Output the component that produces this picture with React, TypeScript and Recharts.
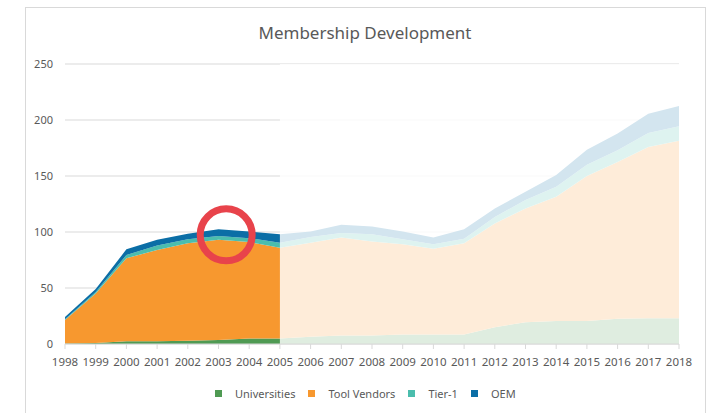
import React from 'react';
import { AreaChart, Area, XAxis, YAxis, CartesianGrid, Legend, ReferenceArea, ReferenceDot, Customized } from 'recharts';

const years = [1998, 1999, 2000, 2001, 2002, 2003, 2004, 2005, 2006, 2007, 2008, 2009, 2010, 2011, 2012, 2013, 2014, 2015, 2016, 2017, 2018];
const universities = [0.5, 1, 2.5, 2.5, 3, 3.5, 5, 5, 6.5, 7.5, 7.5, 8.5, 8.5, 8.5, 15, 19.5, 20.5, 20.5, 22.5, 23, 23];
const toolVendors = [21, 44, 74, 81.5, 87, 89.5, 86, 81, 84, 87.5, 84, 80.5, 76.5, 81.5, 92.5, 101.5, 111, 129.5, 140, 153, 158.5];
const tier1 = [0.5, 1.5, 3, 4, 3.5, 3.5, 3.5, 4.5, 5, 4, 6.5, 4.5, 4, 4, 6, 7.5, 9, 10, 10.5, 12.5, 13];
const oem = [2, 2.5, 5, 5, 5, 6, 6, 7.5, 5, 7.5, 7, 7, 6, 8.5, 7.5, 7.5, 10.5, 13.5, 15, 17, 18];
const yTicks = [0, 50, 100, 150, 200, 250];
const fadedFrom = 2005;
const fadedTo = 2018;
const highlight = { x: 2003.25, y: 97.5 };

const series = [
  { key: 'universities', name: 'Universities', color: '#4f9a53' },
  { key: 'toolVendors', name: 'Tool Vendors', color: '#f7982f' },
  { key: 'tier1', name: 'Tier-1', color: '#4bbdad' },
  { key: 'oem', name: 'OEM', color: '#0b6ea6' },
];

const data = years.map((y, i) => ({
  year: y,
  universities: universities[i],
  toolVendors: toolVendors[i],
  tier1: tier1[i],
  oem: oem[i],
}));

const FONT = '"Noto Sans", sans-serif';

const LegendContent = () => (
  <div style={{ height: 20, display: 'flex', alignItems: 'center', fontFamily: FONT, fontSize: 11, color: '#595959' }}>
    {series.map((s, i) => (
      <div key={s.key} style={{ display: 'flex', alignItems: 'center', marginLeft: i === 0 ? 215 : 13 }}>
        <div style={{ width: 7, height: 7, background: s.color, marginRight: 13 }} />
        <span>{s.name}</span>
      </div>
    ))}
  </div>
);

export default function App() {
  return (
    <div style={{ position: 'absolute', left: 0, top: 0, width: 715, height: 413, overflow: 'hidden', background: '#fff' }}>
      <div style={{ position: 'absolute', left: 25, top: 7, width: 679, height: 460, border: '1px solid #d9d9d9' }} />
      <div style={{ position: 'absolute', left: 0, top: 0 }}>
        <AreaChart width={715} height={413} data={data} margin={{ top: 64, right: 36, left: 25, bottom: 19 }}>
          <CartesianGrid vertical={false} stroke="#d9d9d9" />
          <XAxis
            dataKey="year"
            type="number"
            domain={[1998, 2018]}
            ticks={years}
            interval={0}
            stroke="#d9d9d9"
            tickSize={5}
            tickMargin={9}
            tick={{ fill: '#595959', fontSize: 11.5, fontFamily: FONT }}
          />
          <YAxis
            domain={[0, 250]}
            ticks={yTicks}
            width={40}
            axisLine={false}
            tickLine={false}
            tickMargin={6}
            tick={{ fill: '#595959', fontSize: 11, fontFamily: FONT }}
          />
          {series.map((s) => (
            <Area
              key={s.key}
              type="linear"
              dataKey={s.key}
              name={s.name}
              stackId="1"
              fill={s.color}
              fillOpacity={1}
              stroke="none"
              isAnimationActive={false}
            />
          ))}
          <ReferenceArea x1={fadedFrom} x2={fadedTo} y1={0} y2={250} fill="#ffffff" fillOpacity={0.82} stroke="none" />
          <ReferenceDot x={highlight.x} y={highlight.y} r={26} fill="none" stroke="#e8434b" strokeWidth={7} />
          <Legend verticalAlign="bottom" content={<LegendContent />} wrapperStyle={{ top: 383, bottom: 'auto', left: 0, width: 715 }} />
          <Customized
            component={() => (
              <text x={365} y={39} textAnchor="middle" fill="#595959" fontSize={17} fontFamily={FONT}>
                Membership Development
              </text>
            )}
          />
        </AreaChart>
      </div>
    </div>
  );
}
